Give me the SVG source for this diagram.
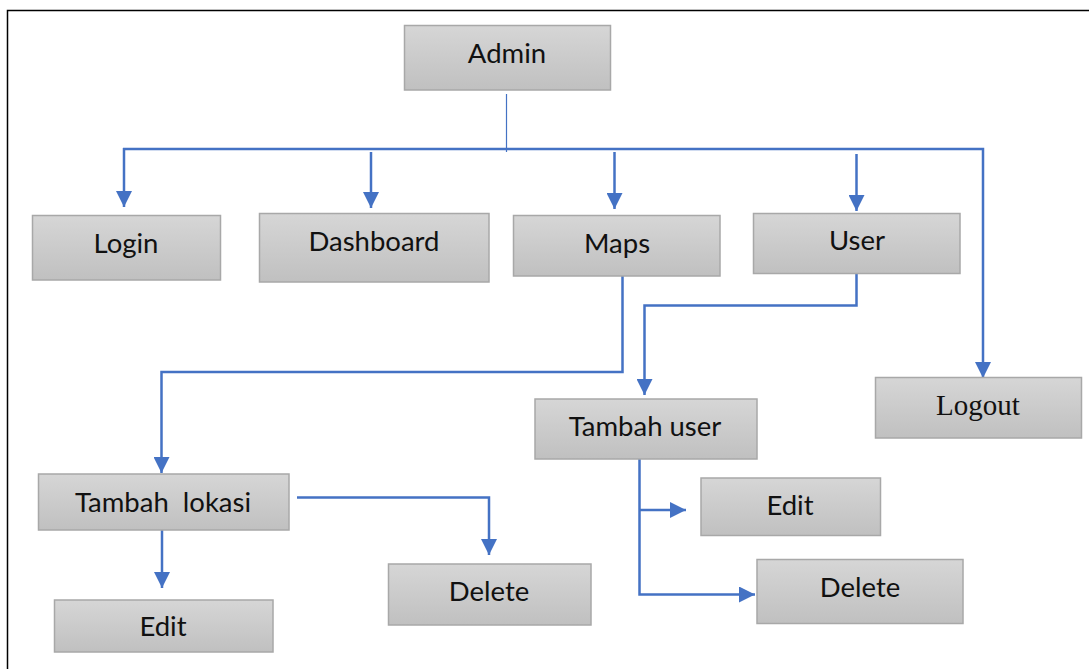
<svg xmlns="http://www.w3.org/2000/svg" width="1089" height="669" viewBox="0 0 1089 669">
  <defs>
    <linearGradient id="boxFill" x1="0" y1="0" x2="0" y2="1">
      <stop offset="0" stop-color="#d6d6d6"/>
      <stop offset="1" stop-color="#c0c0c0"/>
    </linearGradient>
    <marker id="arrow" markerUnits="userSpaceOnUse" markerWidth="16" markerHeight="16" refX="16" refY="8" orient="auto">
      <path d="M0,0 L16,8 L0,16 z" fill="#4472C4"/>
    </marker>
    <style>
      .box { fill: url(#boxFill); stroke: #a8a8a8; stroke-width: 1.5; }
      .lbl { font-family: Lato, "Noto Sans", "Liberation Sans", sans-serif; font-size: 27.5px; fill: #111; text-anchor: middle; }
      .serif { font-family: "Liberation Serif", "DejaVu Serif", serif; font-size: 29px; }
      .conn { fill: none; stroke: #4472C4; stroke-width: 2.5; }
      .thin { fill: none; stroke: #4472C4; stroke-width: 1.2; }
    </style>
  </defs>

  <rect width="1089" height="669" fill="#ffffff"/>
  <!-- page frame -->
  <path d="M7.5,669 V10.5 H1089" fill="none" stroke="#000" stroke-width="1.5"/>

  <g id="connectors">
    <line class="thin" x1="506.5" y1="94" x2="506.5" y2="152"/>
    <!-- main bus, ending at Logout -->
    <path class="conn" d="M123,149 H983 V378" marker-end="url(#arrow)"/>
    <path class="conn" d="M124,148 V207" marker-end="url(#arrow)"/>
    <path class="conn" d="M371,152 V208" marker-end="url(#arrow)"/>
    <path class="conn" d="M614.5,152 V209" marker-end="url(#arrow)"/>
    <path class="conn" d="M856.5,154 V211" marker-end="url(#arrow)"/>
    <path class="conn" d="M622.5,276 V372 H161.5 V473" marker-end="url(#arrow)"/>
    <path class="conn" d="M856.5,274 V305.5 H644.5 V395" marker-end="url(#arrow)"/>
    <path class="conn" d="M162,530 V588" marker-end="url(#arrow)"/>
    <path class="conn" d="M297,497.5 H489 V555" marker-end="url(#arrow)"/>
    <path class="conn" d="M639.5,459 V594.5 H755" marker-end="url(#arrow)"/>
    <path class="conn" d="M639.5,510 H686" marker-end="url(#arrow)"/>
  </g>

  <g id="admin">
    <rect class="box" x="404.5" y="25.5" width="206" height="64.5"/>
    <text class="lbl" x="507" y="63">Admin</text>
  </g>
  <g id="login">
    <rect class="box" x="32.5" y="215.5" width="188" height="64.5"/>
    <text class="lbl" x="126" y="253">Login</text>
  </g>
  <g id="dashboard">
    <rect class="box" x="259.5" y="213.5" width="229.5" height="68.5"/>
    <text class="lbl" x="374" y="251">Dashboard</text>
  </g>
  <g id="maps">
    <rect class="box" x="513.5" y="215.5" width="206.5" height="60.5"/>
    <text class="lbl" x="617" y="253">Maps</text>
  </g>
  <g id="user">
    <rect class="box" x="753.5" y="213.5" width="206.5" height="60"/>
    <text class="lbl" x="857" y="250">User</text>
  </g>
  <g id="logout">
    <rect class="box" x="875.5" y="377.5" width="206" height="60.5"/>
    <text class="lbl serif" x="978" y="415">Logout</text>
  </g>
  <g id="tambah-user">
    <rect class="box" x="535" y="399" width="222" height="60"/>
    <text class="lbl" x="645" y="436">Tambah user</text>
  </g>
  <g id="tambah-lokasi">
    <rect class="box" x="38.5" y="474" width="250.5" height="56"/>
    <text class="lbl" x="163" y="512" xml:space="preserve">Tambah  lokasi</text>
  </g>
  <g id="edit-lokasi">
    <rect class="box" x="54.5" y="600" width="218.5" height="52"/>
    <text class="lbl" x="163" y="636">Edit</text>
  </g>
  <g id="delete-lokasi">
    <rect class="box" x="388.5" y="564" width="202.5" height="61"/>
    <text class="lbl" x="489" y="601">Delete</text>
  </g>
  <g id="edit-user">
    <rect class="box" x="701" y="478" width="179.5" height="57.5"/>
    <text class="lbl" x="790" y="515">Edit</text>
  </g>
  <g id="delete-user">
    <rect class="box" x="757" y="559.5" width="206" height="64"/>
    <text class="lbl" x="860" y="597">Delete</text>
  </g>
</svg>
